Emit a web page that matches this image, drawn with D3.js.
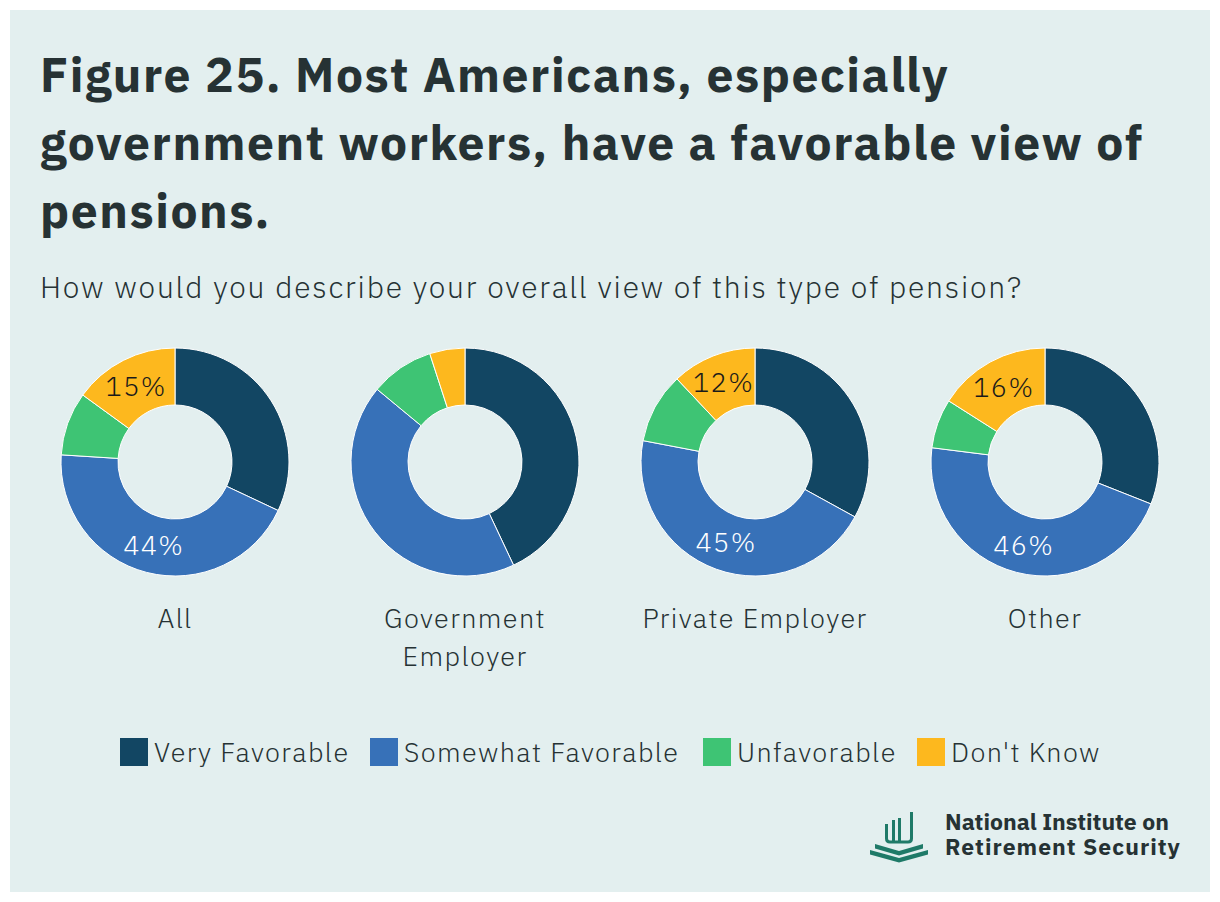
<!DOCTYPE html>
<html><head><meta charset="utf-8">
<script src="https://cdn.jsdelivr.net/npm/d3@7"></script>
<style>
body{margin:0;background:#fff;}
svg text{font-family:"IBM Plex Sans","Noto Sans",sans-serif;}
</style></head>
<body>
<svg id="c" width="1220" height="902"></svg>
<script>
const groups = ["All", "Government Employer", "Private Employer", "Other"];
const groupLines = [["All"], ["Government", "Employer"], ["Private Employer"], ["Other"]];
const series = ["Very Favorable", "Somewhat Favorable", "Unfavorable", "Don't Know"];
const colors = ["#124663", "#3771b8", "#3ec474", "#fdb81e"];
const veryFavorable = [32, 43, 33, 31];
const somewhatFavorable = [44, 43, 45, 46];
const unfavorable = [9, 9, 10, 7];
const dontKnow = [15, 5, 12, 16];
// which slices carry a printed label
const showLabels = [[false, true, false, true], [false,false,false,false], [false,true,false,true], [false,true,false,true]];
const titleLines = ["Figure 25. Most Americans, especially", "government workers, have a favorable view of", "pensions."];
const subtitle = "How would you describe your overall view of this type of pension?";

const svg = d3.select("#c");
const bg = "#e3efef", ink = "#263234";
svg.append("rect").attr("x",10).attr("y",10).attr("width",1200).attr("height",882).attr("fill",bg);

svg.append("g").selectAll("text").data(titleLines).join("text")
  .attr("x",40).attr("y",(d,i)=>92+i*68).attr("font-size",48).attr("font-weight",700)
  .attr("letter-spacing",1.55)
  .attr("fill",ink).text(d=>d);
svg.append("text").attr("x",40).attr("y",298).attr("font-size",30).attr("fill",ink).attr("font-weight",300)
  .attr("letter-spacing",1.8).text(subtitle);

const x = d3.scalePoint().domain(groups).range([175,1045]);
const cy = 462, R = 114, r = 57;
const pie = d3.pie().sort(null).value(d=>d.v);
const arc = d3.arc().innerRadius(r).outerRadius(R);
const ls = 1.4;

groups.forEach((g,gi)=>{
  const vals = [veryFavorable[gi], somewhatFavorable[gi], unfavorable[gi], dontKnow[gi]];
  const data = vals.map((v,i)=>({v, i}));
  const gg = svg.append("g").attr("transform",`translate(${x(g)},${cy})`);
  const arcs = pie(data);
  gg.selectAll("path").data(arcs).join("path").attr("d",arc)
    .attr("fill",d=>colors[d.data.i]).attr("stroke","#ffffff").attr("stroke-width",1);
  gg.selectAll("text.lab").data(arcs.filter(d=>showLabels[gi][d.data.i])).join("text")
    .attr("class","lab")
    .attr("transform",d=>`translate(${arc.centroid(d)})`)
    .attr("text-anchor","middle").attr("dy","0.36em").attr("font-size",27).attr("font-weight",300)
    .attr("letter-spacing",ls)
    .attr("fill",d=>d.data.i===3?"#1a1a1a":"#ffffff")
    .text(d=>d.data.v+"%");
  svg.append("g").selectAll("text").data(groupLines[gi]).join("text")
    .attr("x",x(g)).attr("y",(d,i)=>628+i*38).attr("text-anchor","middle")
    .attr("font-size",27).attr("font-weight",300).attr("letter-spacing",ls).attr("fill",ink).text(d=>d);
});

// legend
const legX = [120, 370, 703, 917];
const leg = svg.append("g");
series.forEach((s,i)=>{
  leg.append("rect").attr("x",legX[i]).attr("y",738).attr("width",28).attr("height",28).attr("fill",colors[i]);
  leg.append("text").attr("x",legX[i]+34).attr("y",762).attr("font-size",27).attr("font-weight",300)
    .attr("letter-spacing",ls).attr("fill",ink).text(s);
});

// logo
const lg = svg.append("g").attr("transform","translate(868,805)");
const teal = "#1f7a68";
lg.append("path").attr("d","M18.5,19 V33.5 Q18.5,37 22,37 H40 Q43.5,37 43.5,33.5 V7")
  .attr("fill","none").attr("stroke",teal).attr("stroke-width",3);
[[25.5,15],[31.5,13]].forEach(([xx,y0])=>{
  lg.append("line").attr("x1",xx).attr("x2",xx).attr("y1",y0).attr("y2",37).attr("stroke",teal).attr("stroke-width",3);
});
lg.append("path").attr("d","M7,39 L31,46 L55,39 L55,43.5 L31,50.5 L7,43.5 Z").attr("fill",teal);
lg.append("path").attr("d","M2,45 L31,53 L60,45 L60,49.5 L31,57.5 L2,49.5 Z").attr("fill",teal);
lg.append("text").attr("x",77).attr("y",25).attr("font-size",23).attr("font-weight",700).attr("fill",ink).text("National Institute on");
lg.append("text").attr("x",77).attr("y",50).attr("font-size",23).attr("font-weight",700).attr("letter-spacing",1)
  .attr("fill",ink).text("Retirement Security");
</script>
</body></html>
